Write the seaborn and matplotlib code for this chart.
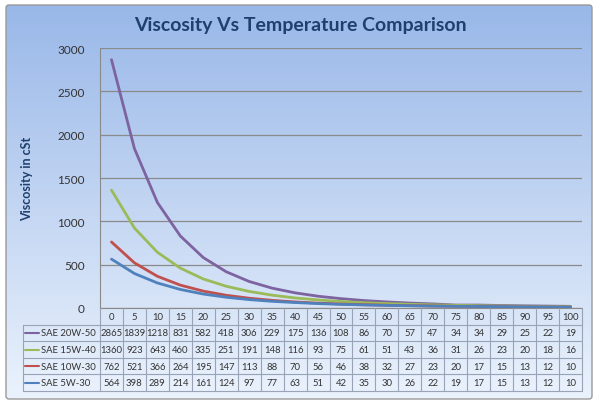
import numpy as np
import pandas as pd
import matplotlib.pyplot as plt
import matplotlib.transforms as mtransforms
from matplotlib.patches import FancyBboxPatch
import seaborn as sns

# temperatures (deg C) and viscosity (cSt) per oil grade
temps = [0, 5, 10, 15, 20, 25, 30, 35, 40, 45, 50, 55, 60, 65, 70, 75, 80, 85, 90, 95, 100]
sae_20w50 = [2865, 1839, 1218, 831, 582, 418, 306, 229, 175, 136, 108, 86, 70, 57, 47, 34, 34, 29, 25, 22, 19]
sae_15w40 = [1360, 923, 643, 460, 335, 251, 191, 148, 116, 93, 75, 61, 51, 43, 36, 31, 26, 23, 20, 18, 16]
sae_10w30 = [762, 521, 366, 264, 195, 147, 113, 88, 70, 56, 46, 38, 32, 27, 23, 20, 17, 15, 13, 12, 10]
sae_5w30 = [564, 398, 289, 214, 161, 124, 97, 77, 63, 51, 42, 35, 30, 26, 22, 19, 17, 15, 13, 12, 10]

series_names = ["SAE 20W-50", "SAE 15W-40", "SAE 10W-30", "SAE 5W-30"]
series_vals = [sae_20w50, sae_15w40, sae_10w30, sae_5w30]
colors = ["#7d63a0", "#9bbb59", "#c0504d", "#4f81bd"]

rows = []
for name, vals in zip(series_names, series_vals):
    for i, (t, v) in enumerate(zip(temps, vals)):
        rows.append({"idx": i, "temp": t, "visc": v, "grade": name})
df = pd.DataFrame(rows)

sns.set_style("white")
plt.rcParams['font.family'] = ['Lato', 'DejaVu Sans']

W, H = 601, 406
fig = plt.figure(figsize=(W / 100, H / 100), dpi=100)
fig.patch.set_facecolor("white")

# gradient background of the chart area with border
bg = fig.add_axes([0, 0, 1, 1], zorder=-5)
bg.set_xlim(0, W)
bg.set_ylim(H, 0)
bg.axis("off")
grad = np.linspace(0, 1, 256).reshape(-1, 1)
top = np.array([0.60, 0.72, 0.91])
bot = np.array([0.92, 0.95, 0.99])
img = top + (bot - top) * grad[..., None]
img = img.reshape(256, 1, 3)
bg.imshow(img, extent=[6, 592, 400, 6], aspect="auto", interpolation="bilinear")
bg.add_patch(FancyBboxPatch((6, 6), 586, 394, boxstyle="round,pad=0,rounding_size=3",
                            fill=False, ec="#9a9a9a", lw=1))

# main plot
x0, x1, y_top, y_zero, y_tab = 100, 582, 49, 309, 392
ax = fig.add_axes([x0 / W, 1 - y_zero / H, (x1 - x0) / W, (y_zero - y_top) / H])
ax.patch.set_alpha(0)
sns.lineplot(data=df, x="idx", y="visc", hue="grade", hue_order=series_names,
             palette=dict(zip(series_names, colors)), linewidth=2, legend=False, ax=ax)
ax.set_xlim(-0.5, len(temps) - 0.5)
ax.set_ylim(0, 3000)
ax.set_yticks(np.arange(0, 3001, 500))
ax.set_xticks([])
ax.set_xlabel("")
ax.set_ylabel("Viscosity in cSt", fontsize=9, fontweight="bold", color="#1f3f6e")
ax.yaxis.set_label_coords((33 - x0) / (x1 - x0), 0.5)
ax.tick_params(axis="y", labelsize=8.5, colors="#333333", length=0, pad=11)
ax.grid(axis="y", color="#8a8a8a", lw=0.9)
for s in ["top", "right"]:
    ax.spines[s].set_visible(False)
ax.spines["left"].set_color("#8a8a8a")
ax.spines["bottom"].set_color("#8a8a8a")
ax.set_axisbelow(True)

fig.text(0.5, 1 - 25 / H, "Viscosity Vs Temperature Comparison", ha="center", va="center",
         fontsize=14, fontweight="bold", color="#1f3f6e")

# data table below the axis
tab = fig.add_axes([x0 / W, 1 - y_tab / H, (x1 - x0) / W, (y_tab - y_zero) / H], sharex=ax)
tab.axis("off")
n = len(temps)
nrows = len(series_names) + 1
tab.set_ylim(nrows, 0)
lc = "#9aa3b5"
trans = mtransforms.blended_transform_factory(tab.transAxes, tab.transData)
left_frac = (23 - x0) / (x1 - x0)
fs = 6.8

for k in range(n + 1):
    tab.plot([k - 0.5, k - 0.5], [0, nrows], color=lc, lw=0.8, clip_on=False)
for r in range(1, nrows + 1):
    tab.plot([left_frac, 1], [r, r], color=lc, lw=0.8, transform=trans, clip_on=False)
tab.plot([left_frac, left_frac], [1, nrows], color=lc, lw=0.8, transform=trans, clip_on=False)

for i, t in enumerate(temps):
    tab.text(i, 0.5, str(t), ha="center", va="center", fontsize=fs, color="#333333")
for r, (name, vals, c) in enumerate(zip(series_names, series_vals, colors), start=1):
    for i, v in enumerate(vals):
        tab.text(i, r + 0.5, str(v), ha="center", va="center", fontsize=fs, color="#333333")
    tab.plot([left_frac + 0.004, left_frac + 0.034], [r + 0.5, r + 0.5], color=c, lw=1.5,
             transform=trans, clip_on=False)
    tab.text(left_frac + 0.037, r + 0.5, name, ha="left", va="center", fontsize=fs,
             color="#333333", transform=trans, clip_on=False)

fig.savefig("out.png", dpi=100)
